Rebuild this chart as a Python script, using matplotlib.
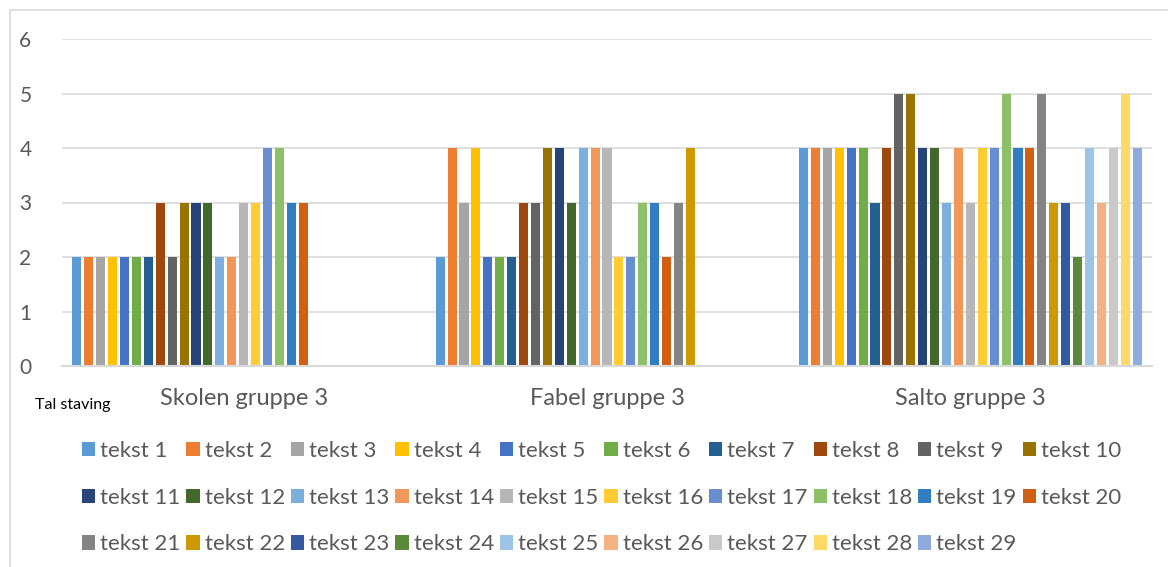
import numpy as np
import matplotlib
matplotlib.use("Agg")
import matplotlib.pyplot as plt
from matplotlib.patches import Patch
from matplotlib.lines import Line2D

plt.rcParams['font.family'] = ['Lato', 'DejaVu Sans']

groups = ["Skolen gruppe 3", "Fabel gruppe 3", "Salto gruppe 3"]
series_names = ["tekst %d" % (i + 1) for i in range(29)]

# scores per text, one list per group (texts missing in a group are left out)
skolen = [2, 2, 2, 2, 2, 2, 2, 3, 2, 3, 3, 3, 2, 2, 3, 3, 4, 4, 3, 3]
fabel = [2, 4, 3, 4, 2, 2, 2, 3, 3, 4, 4, 3, 4, 4, 4, 2, 2, 3, 3, 2, 3, 4]
salto = [4, 4, 4, 4, 4, 4, 3, 4, 5, 5, 4, 4, 3, 4, 3, 4, 4, 5, 4, 4,
         5, 3, 3, 2, 4, 3, 4, 5, 4]

colors = ["#5B9BD5", "#ED7D31", "#A5A5A5", "#FFC000", "#4472C4", "#70AD47",
          "#255E91", "#9E480E", "#636363", "#997300", "#264478", "#43682B",
          "#7CAFDD", "#F1975A", "#B7B7B7", "#FFCD33", "#698ED0", "#8CC168",
          "#327DC2", "#D26012", "#848484", "#CC9A00", "#335AA1", "#5A8A39",
          "#9DC3E6", "#F4B183", "#C9C9C9", "#FFD966", "#8FAADC"]

group_data = [skolen, fabel, salto]
n_series = len(series_names)

W, H = 1168, 567
fig = plt.figure(figsize=(W / 100, H / 100), dpi=100)
ax = fig.add_axes([62 / W, 1 - 366 / H, (1152 - 62) / W, (366 - 39) / H])

pitch = 0.0328
bw = pitch * 0.76
x0 = np.arange(len(groups)) + 0.5

for j in range(n_series):
    xs, hs = [], []
    for i, vals in enumerate(group_data):
        if j < len(vals):
            xs.append(x0[i] + (j - (n_series - 1) / 2) * pitch)
            hs.append(vals[j])
    ax.bar(xs, hs, width=bw, color=colors[j], zorder=3)

ax.set_xlim(0, 3)
ax.set_ylim(0, 6)
ax.set_yticks(range(7))
ax.yaxis.grid(True, color="#D9D9D9", lw=1.2, zorder=0)
for s in ["top", "right", "left"]:
    ax.spines[s].set_visible(False)
ax.spines["bottom"].set_color("#D9D9D9")
ax.spines["bottom"].set_linewidth(1.5)
ax.spines["bottom"].set_zorder(4)
ax.set_xticks(x0)
ax.set_xticklabels(groups)
ax.tick_params(axis="both", length=0, labelcolor="#595959")
ax.tick_params(axis="y", pad=22, labelsize=15)
ax.tick_params(axis="x", pad=16, labelsize=17)

fig.text(35 / W, 1 - 405 / H, "Tal staving", fontsize=11.5, color="black",
         va="center", ha="left")

# legend laid out row by row, 10 per row
order = []
for c in range(10):
    for r in range(3):
        k = r * 10 + c
        if k < n_series:
            order.append(k)
handles = [Patch(facecolor=colors[k], edgecolor="none") for k in order]
labels = [series_names[k] for k in order]
leg = fig.legend(handles, labels, ncol=10, loc="upper left",
                 bbox_to_anchor=(82 / W, 1 - 441 / H), frameon=False,
                 fontsize=16, handlelength=0.6, handleheight=0.6,
                 handletextpad=0.22, columnspacing=0.27, labelspacing=1.2,
                 borderpad=0, borderaxespad=0)
for t in leg.get_texts():
    t.set_color("#595959")

# chart area border
fig.add_artist(Line2D([10 / W, 10 / W], [0, 1 - 10 / H], color="#D9D9D9", lw=1.2))
fig.add_artist(Line2D([10 / W, 1], [1 - 10 / H, 1 - 10 / H], color="#D9D9D9", lw=1.2))

fig.savefig("out.png", dpi=100)
